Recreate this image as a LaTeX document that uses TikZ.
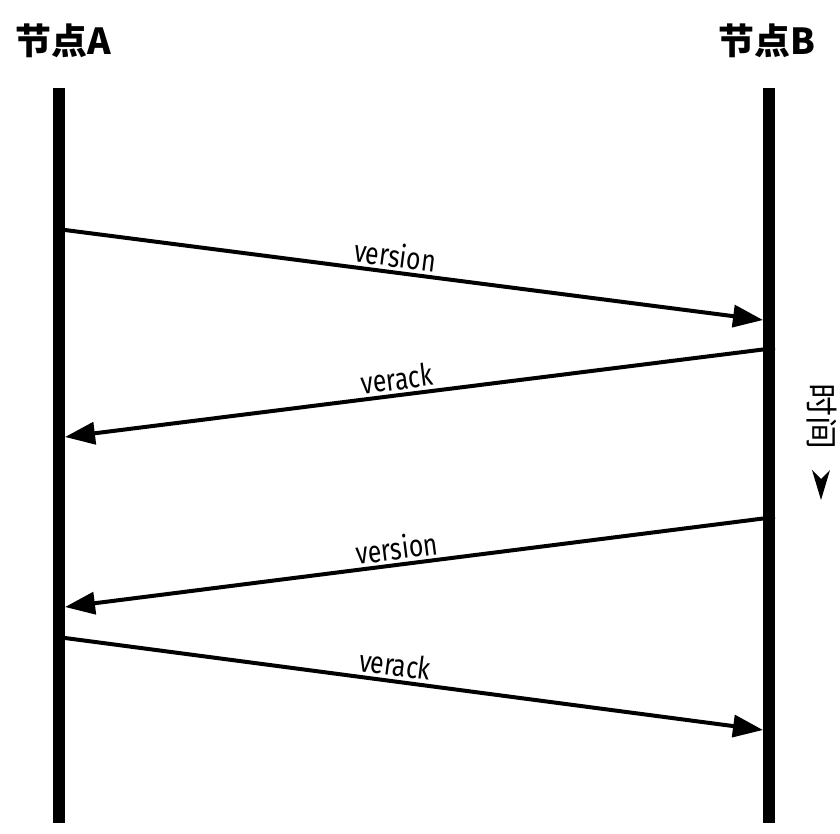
\documentclass[tikz,border=0pt]{standalone}
\usepackage{fontspec}
\newfontfamily\cjk{Noto Sans CJK SC}
\newfontfamily\lab[FakeStretch=0.8]{Fira Sans}
\usetikzlibrary{arrows.meta}
\begin{document}
\begin{tikzpicture}[x=1bp,y=-1bp,
  life/.style={line width=12bp},
  msg/.style={line width=4bp,-{Triangle[length=30bp,width=22bp]}},
  title/.style={font=\cjk\fontsize{36}{40}\selectfont\bfseries, inner sep=0},
  lbl/.style={font=\lab\fontsize{31}{34}\selectfont, sloped, above, inner sep=3bp}]
\useasboundingbox (0,0) rectangle (840,834);
\node[title] (ta) at (63,41) {节点A};
\node[title] (tb) at (767,41) {节点B};
\coordinate (a0) at (59,88);
\coordinate (a1) at (59,823);
\coordinate (b0) at (769,88);
\coordinate (b1) at (769,823);
\draw[life] (a0) -- (a1);
\draw[life] (b0) -- (b1);
\coordinate (s1) at (65,230); \coordinate (e1) at (763,320);
\coordinate (s2) at (775,348); \coordinate (e2) at (65,437);
\coordinate (s3) at (775,517); \coordinate (e3) at (65,607);
\coordinate (s4) at (65,638); \coordinate (e4) at (763,730);
\draw[msg] (s1) -- node[lbl, pos=0.47] {version} (e1);
\draw[msg] (s2) -- node[lbl, pos=0.53] {verack} (e2);
\draw[msg] (s3) -- node[lbl, pos=0.53] {version} (e3);
\draw[msg] (s4) -- node[lbl, pos=0.47] {verack} (e4);
\node[font=\cjk\fontsize{33}{36}\selectfont, rotate=-90, inner sep=0] (time) at (822,416) {时间};
\fill (821,500) -- (812,470) -- (821,479) -- (830,470) -- cycle;
\end{tikzpicture}
\end{document}
